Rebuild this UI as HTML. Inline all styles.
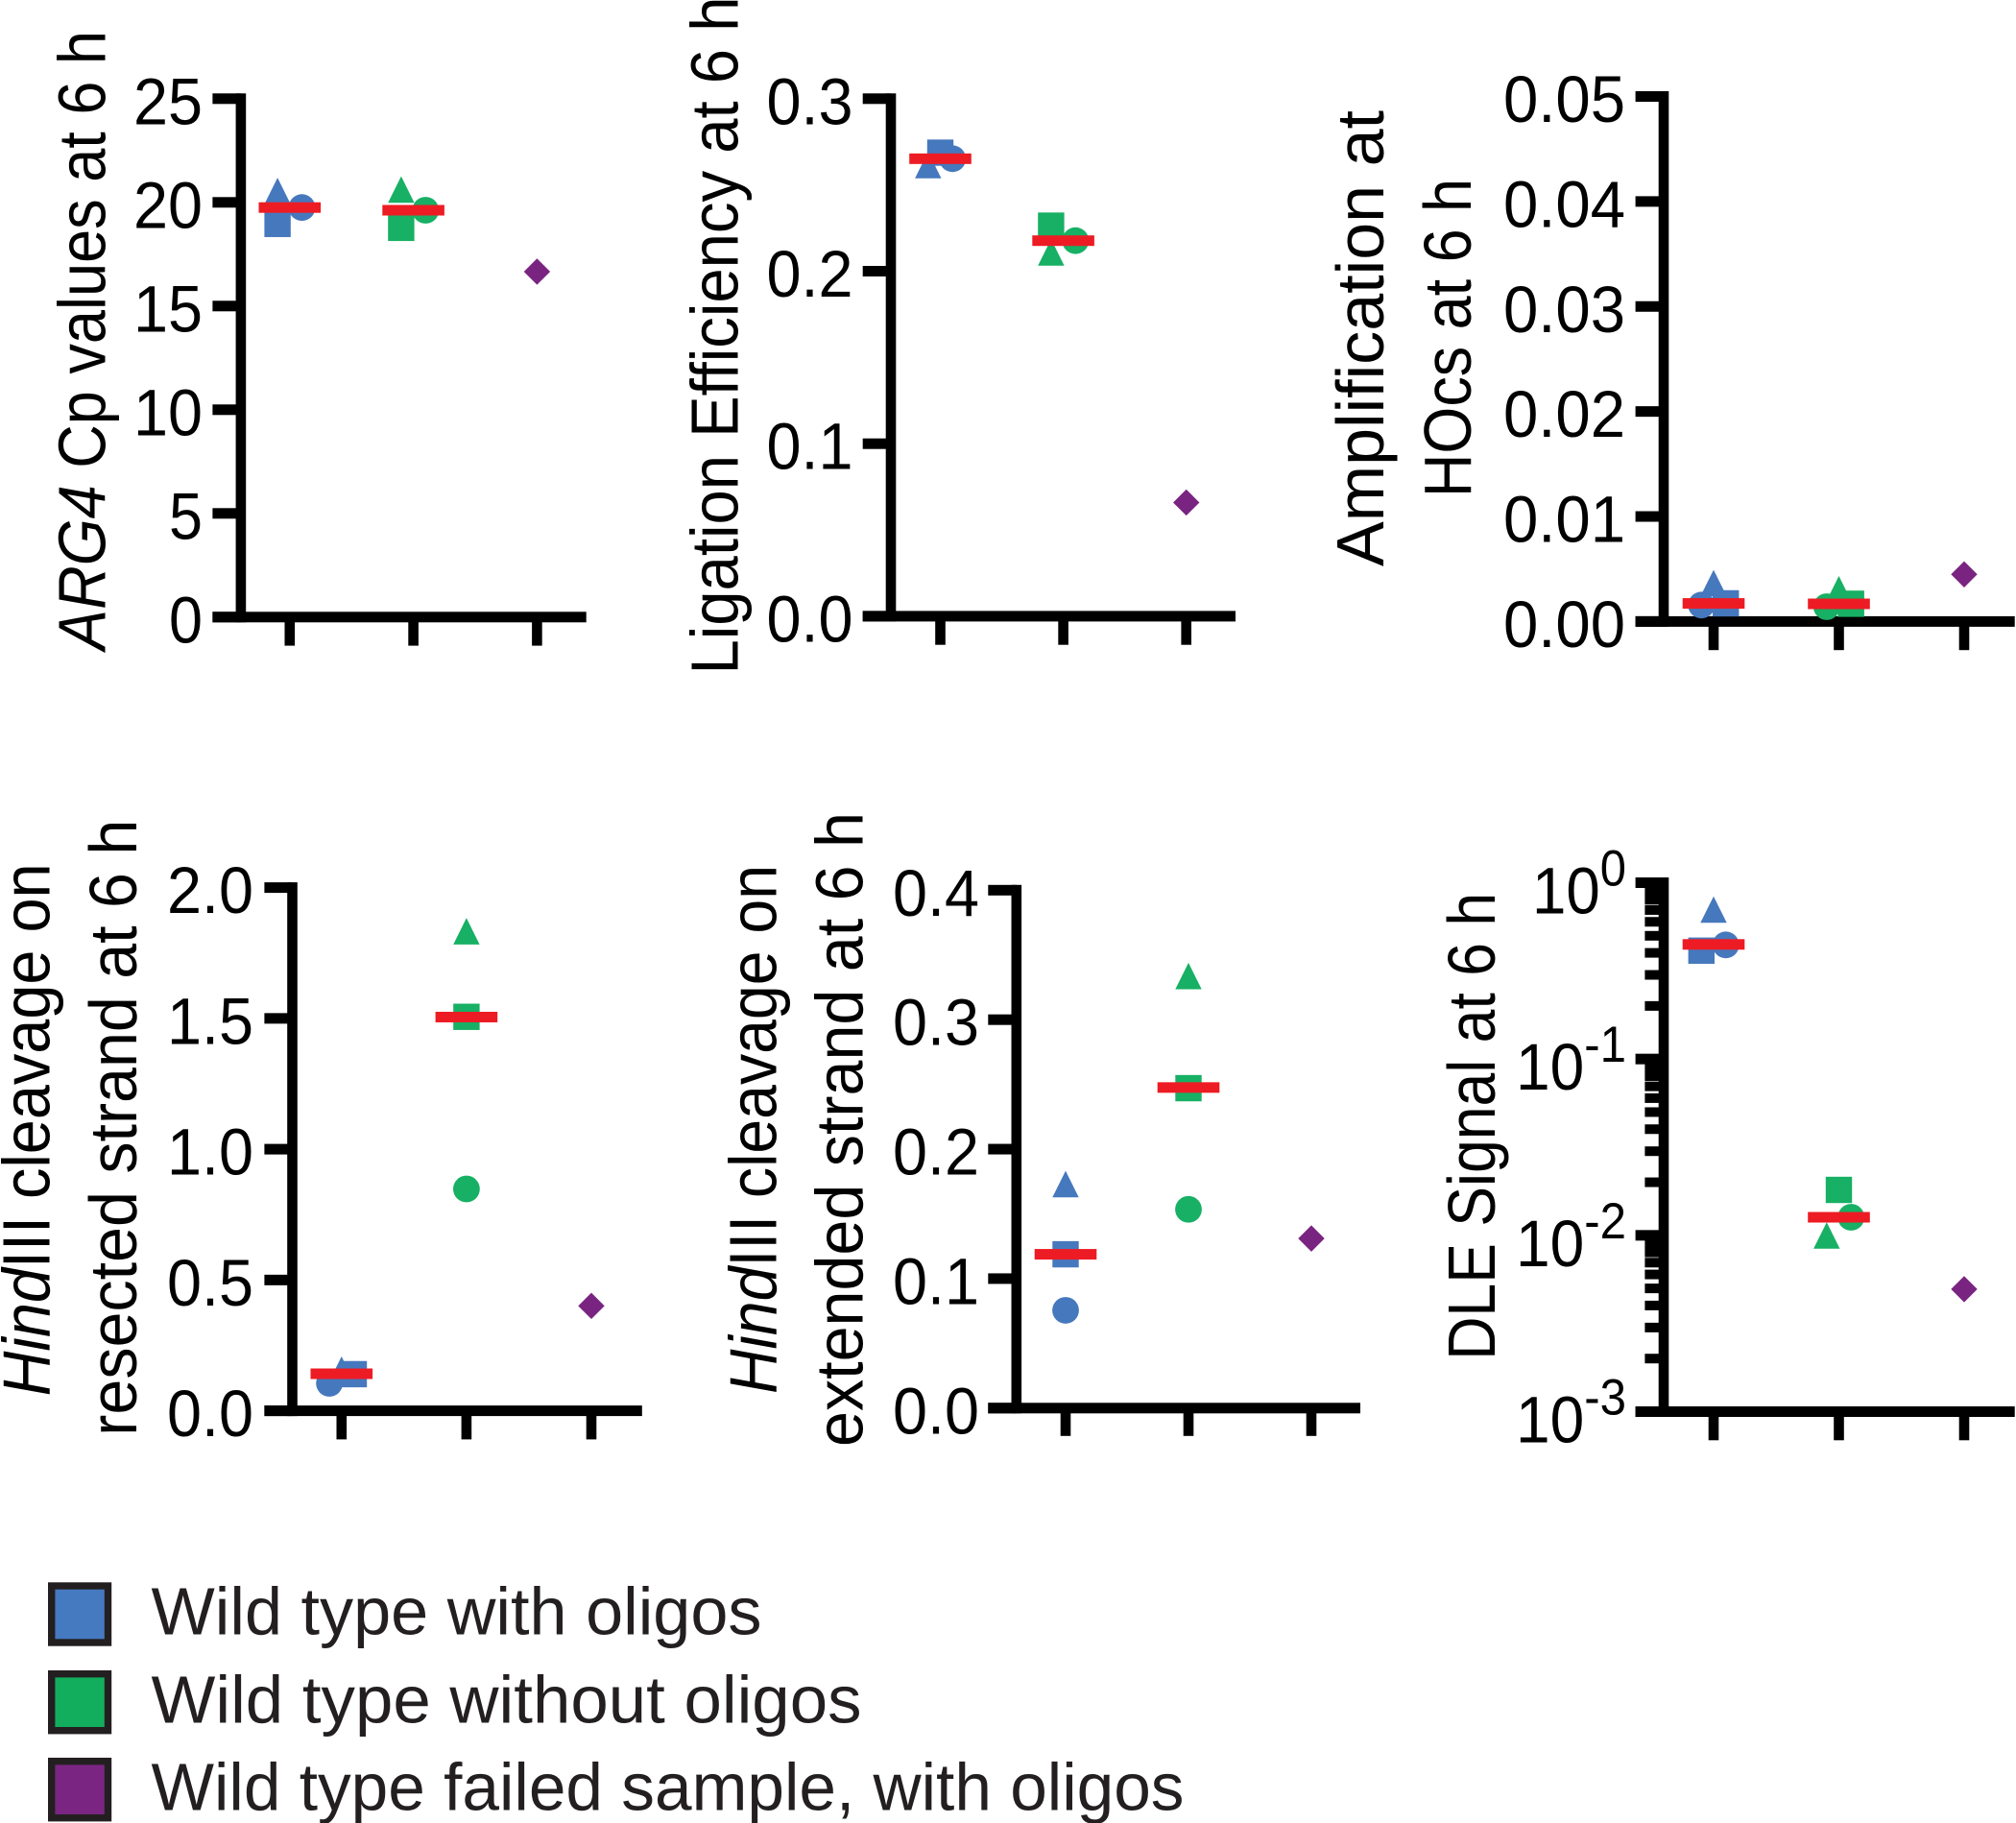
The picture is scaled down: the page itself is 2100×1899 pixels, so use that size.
<!DOCTYPE html>
<html lang="en">
<head>
<meta charset="utf-8">
<title>Wild type samples at 6 h</title>
<style>
html,body{margin:0;padding:0;background:#fff;}
svg{display:block;position:absolute;left:0;top:0;}
text{font-family:"Liberation Sans",sans-serif;fill:#000;}
.title{font-size:70px;}
.legend{font-size:70px;fill:#231f20;}
</style>
</head>
<body>
<svg id="figure" xmlns="http://www.w3.org/2000/svg" width="2100" height="1899" viewBox="0 0 2100 1899">
  <rect x="0" y="0" width="2100" height="1899" fill="#fff"/>

  <text class="title" transform="translate(109.4 677) rotate(-90)" textLength="645" lengthAdjust="spacingAndGlyphs"><tspan font-style="italic">ARG4</tspan> Cp values at 6 h</text>
  <text class="title" transform="translate(768.3 702.5) rotate(-90)" textLength="706" lengthAdjust="spacingAndGlyphs">Ligation Efficiency at 6 h</text>
  <text class="title" transform="translate(1441 590) rotate(-90)" textLength="475" lengthAdjust="spacingAndGlyphs">Amplification at</text>
  <text class="title" transform="translate(1532 518) rotate(-90)" textLength="332" lengthAdjust="spacingAndGlyphs">HOcs at 6 h</text>
  <text class="title" transform="translate(51.3 1454.4) rotate(-90)" textLength="555" lengthAdjust="spacingAndGlyphs"><tspan font-style="italic">Hind</tspan>III cleavage on</text>
  <text class="title" transform="translate(142 1495.7) rotate(-90)" textLength="642" lengthAdjust="spacingAndGlyphs">resected strand at 6 h</text>
  <text class="title" transform="translate(808.3 1452) rotate(-90)" textLength="551" lengthAdjust="spacingAndGlyphs"><tspan font-style="italic">Hind</tspan>III cleavage on</text>
  <text class="title" transform="translate(898.5 1507) rotate(-90)" textLength="661" lengthAdjust="spacingAndGlyphs">extended strand at 6 h</text>
  <text class="title" transform="translate(1557 1416.8) rotate(-90)" textLength="487" lengthAdjust="spacingAndGlyphs">DLE Signal at 6 h</text>

  <g>
    <g>
      <rect x="53.7" y="1652" width="58.8" height="59" fill="#4579c0" stroke="#231f20" stroke-width="7.4"/>
      <text class="legend" x="157.5" y="1702.7" textLength="636" lengthAdjust="spacingAndGlyphs">Wild type with oligos</text>
    </g>
    <g>
      <rect x="53.7" y="1743.7" width="58.8" height="59" fill="#13ad5e" stroke="#231f20" stroke-width="7.4"/>
      <text class="legend" x="157.5" y="1794.3" textLength="740" lengthAdjust="spacingAndGlyphs">Wild type without oligos</text>
    </g>
    <g>
      <rect x="53.7" y="1834.7" width="58.8" height="59" fill="#7b2582" stroke="#231f20" stroke-width="7.4"/>
      <text class="legend" x="157.5" y="1885.3" textLength="1076" lengthAdjust="spacingAndGlyphs">Wild type failed sample, with oligos</text>
    </g>
  </g>
</svg>

<script>
// Categories along every x axis
const categories = ['Wild type with oligos', 'Wild type without oligos', 'Wild type failed sample, with oligos'];

// Panel 1: ARG4 Cp values (index 0 = with oligos, 1 = without oligos)
const arg4Ticks = [0, 5, 10, 15, 20, 25];
const arg4TickLabels = ['0', '5', '10', '15', '20', '25'];
const arg4Triangle = [20.55, 20.62];
const arg4Square = [18.96, 18.77];
const arg4Circle = [19.75, 19.62];
const arg4Mean = [19.75, 19.62];
const arg4Failed = [16.66];
const arg4TriangleSlots = [-1, -1];
const arg4SquareSlots = [-1, -1];
const arg4CircleSlots = [1, 1];

// Panel 2: ligation efficiency
const ligationTicks = [0, 0.1, 0.2, 0.3];
const ligationTickLabels = ['0.0', '0.1', '0.2', '0.3'];
const ligationTriangle = [0.2615, 0.2109];
const ligationSquare = [0.2687, 0.2264];
const ligationCircle = [0.2652, 0.2177];
const ligationMean = [0.2652, 0.2177];
const ligationFailed = [0.0659];
const ligationTriangleSlots = [-1, -1];
const ligationSquareSlots = [0, -1];
const ligationCircleSlots = [1, 1];

// Panel 3: amplification at HOcs
const amplificationTicks = [0, 0.01, 0.02, 0.03, 0.04, 0.05];
const amplificationTickLabels = ['0.00', '0.01', '0.02', '0.03', '0.04', '0.05'];
const amplificationTriangle = [0.00366, 0.00307];
const amplificationSquare = [0.00173, 0.00169];
const amplificationCircle = [0.00156, 0.00141];
const amplificationMean = [0.00172, 0.00168];
const amplificationFailed = [0.00449];
const amplificationTriangleSlots = [0, 0];
const amplificationSquareSlots = [1, 1];
const amplificationCircleSlots = [-1, -1];

// Panel 4: HindIII cleavage on resected strand
const resectedTicks = [0, 0.5, 1, 1.5, 2];
const resectedTickLabels = ['0.0', '0.5', '1.0', '1.5', '2.0'];
const resectedTriangle = [0.157, 1.833];
const resectedSquare = [0.14, 1.506];
const resectedCircle = [0.105, 0.848];
const resectedMean = [0.1416, 1.505];
const resectedFailed = [0.401];
const resectedTriangleSlots = [0, 0];
const resectedSquareSlots = [1, 0];
const resectedCircleSlots = [-1, 0];

// Panel 5: HindIII cleavage on extended strand
const extendedTicks = [0, 0.1, 0.2, 0.3, 0.4];
const extendedTickLabels = ['0.0', '0.1', '0.2', '0.3', '0.4'];
const extendedTriangle = [0.173, 0.3337];
const extendedSquare = [0.1188, 0.2471];
const extendedCircle = [0.0755, 0.1535];
const extendedMean = [0.1188, 0.2476];
const extendedFailed = [0.131];
const extendedTriangleSlots = [0, 0];
const extendedSquareSlots = [0, 0];
const extendedCircleSlots = [0, 0];

// Panel 6: DLE signal (log axis)
const dleDecadeExponents = [-3, -2, -1, 0];
const dleDecadeLabels = ['-3', '-2', '-1', '0'];
const dleMinorMultipliers = [2, 3, 4, 5, 6, 7, 8, 9];
const dleTriangle = [0.704, 0.00998];
const dleSquare = [0.4118, 0.0181];
const dleCircle = [0.4436, 0.01266];
const dleMean = [0.4467, 0.01266];
const dleFailed = [0.00495];
const dleTriangleSlots = [0, -1];
const dleSquareSlots = [-1, 0];
const dleCircleSlots = [1, 1];

const SVG_NS = 'http://www.w3.org/2000/svg';
const figure = document.getElementById('figure');
const groupColors = ['#4678bd', '#17b064'];
const failedColor = '#7a2481';
const meanColor = '#ed1c24';
const SLOT_PX = 12.7;
const MARK_HALF = 13.7;

function node(parent, tag, attrs) {
  const el = document.createElementNS(SVG_NS, tag);
  Object.keys(attrs).forEach(function (k) { el.setAttribute(k, attrs[k]); });
  parent.appendChild(el);
  return el;
}

function linearScale(domainMax, pxZero, pxMax) {
  return function (v) { return pxZero + (v / domainMax) * (pxMax - pxZero); };
}

function logScale(minExp, maxExp, pxMin, pxMax) {
  return function (v) { return pxMin + (Math.log10(v) - minExp) / (maxExp - minExp) * (pxMax - pxMin); };
}

function bandScale(first, step) {
  return function (i) { return first + i * step; };
}

function drawAxes(g, box, x, yPositions) {
  const spine = node(g, 'rect', { x: box.axisX - 5.3, y: box.topY - 5.5, width: 10.6, height: box.zeroY - box.topY + 11, fill: '#000' });
  
  

  const base = node(g, 'rect', { x: box.left, y: box.zeroY - 5.5, width: box.right - box.left, height: 11, fill: '#000' });
  
  

  yPositions.forEach(function (py) {
    const tick = node(g, 'rect', { x: box.left, y: py - 5.5, width: box.axisX - box.left, height: 11, fill: '#000' });
    
    
  });

  categories.forEach(function (c, i) {
    const tick = node(g, 'rect', { x: x(i) - 5.3, y: box.zeroY, width: 10.6, height: box.tickBottom - box.zeroY, fill: '#000' });
    
    
  });
}

function drawLinearLabels(g, box, ticks, labels, y) {
  ticks.forEach(function (t, i) {
    const s = labels[i];
    const digits = s.replace('.', '').length;
    const dots = s.length - digits;
    const label = node(g, 'text', {
      x: box.labelRight, y: y(t) + 26.5, 'text-anchor': 'end', 'font-size': 69,
      textLength: digits * 37 + dots * 18 - 2, lengthAdjust: 'spacingAndGlyphs'
    });
    label.textContent = s;
    
    
  });
}

function drawMarks(g, x, y, triangle, square, circle, mean, failed, triSlots, sqSlots, circSlots) {
  triangle.forEach(function (v, i) {
    const cx = x(i) + triSlots[i] * SLOT_PX;
    const cy = y(v);
    const h = 13.8;
    const mark = node(g, 'polygon', {
      points: cx + ',' + (cy - h) + ' ' + (cx - MARK_HALF) + ',' + (cy + h) + ' ' + (cx + MARK_HALF) + ',' + (cy + h),
      fill: groupColors[i]
    });
    
    
    mark.appendChild(document.createElementNS(SVG_NS, 'title')).textContent = categories[i];
  });

  square.forEach(function (v, i) {
    const cx = x(i) + sqSlots[i] * SLOT_PX;
    const cy = y(v);
    const mark = node(g, 'rect', { x: cx - MARK_HALF, y: cy - MARK_HALF, width: 2 * MARK_HALF, height: 2 * MARK_HALF, fill: groupColors[i] });
    
    
    mark.appendChild(document.createElementNS(SVG_NS, 'title')).textContent = categories[i];
  });

  circle.forEach(function (v, i) {
    const cx = x(i) + circSlots[i] * SLOT_PX;
    const mark = node(g, 'circle', { cx: cx, cy: y(v), r: 13.9, fill: groupColors[i] });
    
    
    mark.appendChild(document.createElementNS(SVG_NS, 'title')).textContent = categories[i];
  });

  failed.forEach(function (v) {
    const cx = x(2);
    const cy = y(v);
    const mark = node(g, 'polygon', {
      points: cx + ',' + (cy - MARK_HALF) + ' ' + (cx + MARK_HALF) + ',' + cy + ' ' + cx + ',' + (cy + MARK_HALF) + ' ' + (cx - MARK_HALF) + ',' + cy,
      fill: failedColor
    });
    
    
    mark.appendChild(document.createElementNS(SVG_NS, 'title')).textContent = categories[2];
  });

  mean.forEach(function (v, i) {
    const bar = node(g, 'rect', { x: x(i) - 32.3, y: y(v) - 5.5, width: 64.6, height: 11, fill: meanColor });
    
    
  });
}

function panelGroup() {
  const g = document.createElementNS(SVG_NS, 'g');
  figure.appendChild(g);
  return g;
}

// ---- Panel 1 ----
const arg4Group = panelGroup();


const arg4Box = { axisX: 250.9, left: 221.4, right: 610.7, zeroY: 642.8, topY: 102.8, tickBottom: 672.6, labelRight: 211 };
const arg4X = bandScale(301.8, 128.8);
const arg4Y = linearScale(25, arg4Box.zeroY, arg4Box.topY);
drawAxes(arg4Group, arg4Box, arg4X, arg4Ticks.map(arg4Y));
drawLinearLabels(arg4Group, arg4Box, arg4Ticks, arg4TickLabels, arg4Y);
drawMarks(arg4Group, arg4X, arg4Y, arg4Triangle, arg4Square, arg4Circle, arg4Mean, arg4Failed, arg4TriangleSlots, arg4SquareSlots, arg4CircleSlots);

// ---- Panel 2 ----
const ligationGroup = panelGroup();


const ligationBox = { axisX: 928, left: 898.7, right: 1287, zeroY: 641.9, topY: 102.8, tickBottom: 671.7, labelRight: 888.5 };
const ligationX = bandScale(979.5, 128.1);
const ligationY = linearScale(0.3, ligationBox.zeroY, ligationBox.topY);
drawAxes(ligationGroup, ligationBox, ligationX, ligationTicks.map(ligationY));
drawLinearLabels(ligationGroup, ligationBox, ligationTicks, ligationTickLabels, ligationY);
drawMarks(ligationGroup, ligationX, ligationY, ligationTriangle, ligationSquare, ligationCircle, ligationMean, ligationFailed, ligationTriangleSlots, ligationSquareSlots, ligationCircleSlots);

// ---- Panel 3 ----
const amplificationGroup = panelGroup();


const amplificationBox = { axisX: 1733, left: 1703.6, right: 2098.7, zeroY: 647.4, topY: 100.5, tickBottom: 677.2, labelRight: 1693 };
const amplificationX = bandScale(1785, 130.5);
const amplificationY = linearScale(0.05, amplificationBox.zeroY, amplificationBox.topY);
drawAxes(amplificationGroup, amplificationBox, amplificationX, amplificationTicks.map(amplificationY));
drawLinearLabels(amplificationGroup, amplificationBox, amplificationTicks, amplificationTickLabels, amplificationY);
drawMarks(amplificationGroup, amplificationX, amplificationY, amplificationTriangle, amplificationSquare, amplificationCircle, amplificationMean, amplificationFailed, amplificationTriangleSlots, amplificationSquareSlots, amplificationCircleSlots);

// ---- Panel 4 ----
const resectedGroup = panelGroup();


const resectedBox = { axisX: 304.5, left: 275.4, right: 668.8, zeroY: 1469.6, topY: 924.6, tickBottom: 1499.4, labelRight: 264 };
const resectedX = bandScale(355.8, 130.1);
const resectedY = linearScale(2, resectedBox.zeroY, resectedBox.topY);
drawAxes(resectedGroup, resectedBox, resectedX, resectedTicks.map(resectedY));
drawLinearLabels(resectedGroup, resectedBox, resectedTicks, resectedTickLabels, resectedY);
drawMarks(resectedGroup, resectedX, resectedY, resectedTriangle, resectedSquare, resectedCircle, resectedMean, resectedFailed, resectedTriangleSlots, resectedSquareSlots, resectedCircleSlots);

// ---- Panel 5 ----
const extendedGroup = panelGroup();


const extendedBox = { axisX: 1058.8, left: 1029.3, right: 1417, zeroY: 1466.8, topY: 927.3, tickBottom: 1495.8, labelRight: 1020 };
const extendedX = bandScale(1110, 128);
const extendedY = linearScale(0.4, extendedBox.zeroY, extendedBox.topY);
drawAxes(extendedGroup, extendedBox, extendedX, extendedTicks.map(extendedY));
drawLinearLabels(extendedGroup, extendedBox, extendedTicks, extendedTickLabels, extendedY);
drawMarks(extendedGroup, extendedX, extendedY, extendedTriangle, extendedSquare, extendedCircle, extendedMean, extendedFailed, extendedTriangleSlots, extendedSquareSlots, extendedCircleSlots);

// ---- Panel 6 (log) ----
const dleGroup = panelGroup();


const dleBox = { axisX: 1733, left: 1703.6, right: 2098.7, zeroY: 1470.5, topY: 919.5, tickBottom: 1500.3, labelRight: 1694 };
const dleX = bandScale(1785, 130.5);
const dleY = logScale(-3, 0, dleBox.zeroY, dleBox.topY);
drawAxes(dleGroup, dleBox, dleX, dleDecadeExponents.map(function (e) { return dleY(Math.pow(10, e)); }));
dleDecadeExponents.slice(0, -1).forEach(function (e) {
  dleMinorMultipliers.forEach(function (m) {
    const py = dleY(m * Math.pow(10, e));
    const minor = node(dleGroup, 'rect', { x: 1713.4, y: py - 5, width: dleBox.axisX - 1713.4, height: 10, fill: '#000' });
    
    
  });
});
dleDecadeExponents.forEach(function (e, i) {
  const s = dleDecadeLabels[i];
  const label = node(dleGroup, 'text', {
    x: dleBox.labelRight, y: dleY(Math.pow(10, e)) + 32, 'text-anchor': 'end', 'font-size': 69,
    textLength: s.length > 1 ? 115 : 98, lengthAdjust: 'spacingAndGlyphs'
  });
  
  
  label.appendChild(document.createTextNode('10'));
  const sup = node(label, 'tspan', { dy: -29, 'font-size': 53 });
  sup.textContent = s;
});
drawMarks(dleGroup, dleX, dleY, dleTriangle, dleSquare, dleCircle, dleMean, dleFailed, dleTriangleSlots, dleSquareSlots, dleCircleSlots);
</script>
</body>
</html>
